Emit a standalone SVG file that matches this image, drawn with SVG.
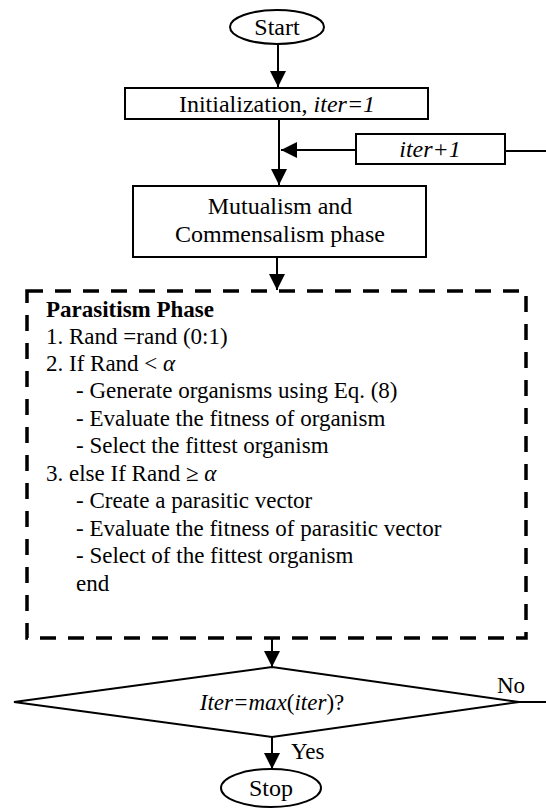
<svg xmlns="http://www.w3.org/2000/svg" width="546" height="809" viewBox="0 0 546 809">
<style>
  .t { font-family: "Liberation Serif", "Times New Roman", serif; font-size: 23px; fill: #000; }
  .l { font-size: 24px; }
  .i { font-style: italic; }
  .b { font-weight: bold; }
  .box { fill: #fff; stroke: #000; stroke-width: 2; }
  .ln { fill: none; stroke: #000; stroke-width: 2; }
  .dash { fill: none; stroke: #000; stroke-width: 3.5; stroke-dasharray: 16 12; }
</style>
<defs>
  <marker id="ah" markerUnits="userSpaceOnUse" markerWidth="16" markerHeight="16" viewBox="0 0 16 16" refX="16" refY="8" orient="auto">
    <path d="M0,0 L16,8 L0,16 Z" fill="#000"/>
  </marker>
</defs>
<rect width="546" height="809" fill="#fff"/>
<g id="connectors">
  <line class="ln" x1="278" y1="45" x2="278" y2="87" marker-end="url(#ah)"/>
  <line class="ln" x1="279" y1="119" x2="279" y2="185" marker-end="url(#ah)"/>
  <line class="ln" x1="356" y1="150" x2="281" y2="150" marker-end="url(#ah)"/>
  <line class="ln" x1="505" y1="151" x2="546" y2="151"/>
  <line class="ln" x1="277" y1="257" x2="277" y2="290" marker-end="url(#ah)"/>
  <line class="ln" x1="272" y1="639" x2="272" y2="667" marker-end="url(#ah)"/>
  <line class="ln" x1="519" y1="702" x2="546" y2="702"/>
  <line class="ln" x1="272" y1="737" x2="272" y2="769" marker-end="url(#ah)"/>
</g>
<g id="start">
  <ellipse class="box" cx="277" cy="27" rx="47" ry="17"/>
  <text class="t l" x="277" y="35" text-anchor="middle">Start</text>
</g>
<g id="init">
  <rect class="box" x="125" y="88" width="303" height="31"/>
  <text class="t l" x="277" y="112" text-anchor="middle">Initialization, <tspan class="i">iter=1</tspan></text>
</g>
<g id="iter">
  <rect class="box" x="356" y="134" width="149" height="30"/>
  <text class="t l i" x="430" y="157" text-anchor="middle">iter+1</text>
</g>
<g id="mutualism">
  <rect class="box" x="133" y="186" width="293" height="71"/>
  <text class="t l" x="280" y="214" text-anchor="middle">Mutualism and</text>
  <text class="t l" x="280" y="242" text-anchor="middle">Commensalism phase</text>
</g>
<g id="parasitism">
  <rect class="dash" x="27" y="291" width="499" height="347"/>
  <text class="t b" x="46" y="317">Parasitism Phase</text>
  <text class="t" x="46" y="344">1. Rand =rand (0:1)</text>
  <text class="t" x="46" y="371">2. If Rand &lt; <tspan class="i">α</tspan></text>
  <text class="t" x="76" y="398">- Generate organisms using Eq. (8)</text>
  <text class="t" x="76" y="426">- Evaluate the fitness of organism</text>
  <text class="t" x="76" y="453">- Select the fittest organism</text>
  <text class="t" x="46" y="481">3. else If Rand ≥ <tspan class="i">α</tspan></text>
  <text class="t" x="76" y="508">- Create a parasitic vector</text>
  <text class="t" x="76" y="536">- Evaluate the fitness of parasitic vector</text>
  <text class="t" x="76" y="563">- Select of the fittest organism</text>
  <text class="t" x="76" y="591">end</text>
</g>
<g id="decision">
  <polygon class="box" points="14,702 272,667 519,702 272,737"/>
  <text class="t" x="272" y="710" text-anchor="middle"><tspan class="i">Iter=max</tspan>(<tspan class="i">iter</tspan>)?</text>
  <text class="t" x="497" y="693">No</text>
  <text class="t" x="291" y="759">Yes</text>
</g>
<g id="stop">
  <ellipse class="box" cx="271" cy="788" rx="50" ry="19"/>
  <text class="t l" x="271" y="796" text-anchor="middle">Stop</text>
</g>
</svg>
